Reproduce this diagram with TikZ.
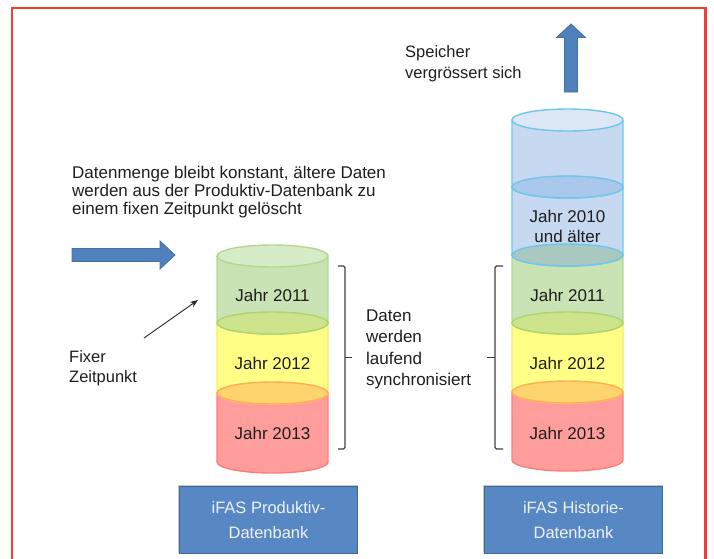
\documentclass[tikz,border=0pt]{standalone}
\usepackage{fontspec}
\setmainfont{Liberation Sans}
\usetikzlibrary{arrows.meta}
\definecolor{frame}{HTML}{F03E34}
\definecolor{arrowfill}{HTML}{4F81BD}
\definecolor{arrowline}{HTML}{41719C}
\definecolor{boxfill}{HTML}{5888C3}
\definecolor{boxline}{HTML}{3F6899}
\definecolor{boxtext}{HTML}{EEF2F8}
\definecolor{txt}{HTML}{1E1E1E}
\definecolor{grfill}{HTML}{C9E3B5}
\definecolor{grline}{HTML}{B3D98F}
\definecolor{grtop}{HTML}{D6EBC7}
\definecolor{gycap}{HTML}{CDE48C}
\definecolor{gyline}{HTML}{AED46A}
\definecolor{yefill}{HTML}{FFFF85}
\definecolor{yeline}{HTML}{F2EC6A}
\definecolor{yrcap}{HTML}{FFD36E}
\definecolor{yrline}{HTML}{FFAE55}
\definecolor{refill}{HTML}{FF9C9C}
\definecolor{reline}{HTML}{FF7C7C}
\definecolor{blfill}{HTML}{C6D9F1}
\definecolor{blline}{HTML}{6EC6EC}
\definecolor{bltop}{HTML}{DCE8F6}
\definecolor{blcap}{HTML}{AAC7EC}
\definecolor{bgcap}{HTML}{A9C8C0}
\newcommand\cylbody[5]{%
  \pgfmathsetmacro\cxl{#1-55.5}\pgfmathsetmacro\cxr{#1+55.5}%
  \filldraw[fill=#4,draw=#5,cylline] (\cxl,#2) -- (\cxl,#3)
    arc[start angle=180,end angle=360,x radius=55.5pt,y radius=11pt] -- (\cxr,#2);}
\newcommand\cylcap[4]{%
  \filldraw[fill=#3,draw=#4,cylline] (#1,#2) ellipse[x radius=55.5pt,y radius=11pt];}
\begin{document}
\begin{tikzpicture}[x=1pt,y=-1pt,
  cylline/.style={line width=1.4pt},
  lbl/.style={inner sep=0pt,text=txt,font=\fontsize{17}{20}\selectfont},
  note/.style={lbl,anchor=north west,align=left},
  dbbox/.style={draw=boxline,line width=1.2pt,fill=boxfill,text=boxtext,align=center,
    minimum width=178pt,minimum height=67pt,inner sep=0pt,
    font=\fontsize{16.5}{25}\selectfont},
  bracket/.style={draw=black!75,line width=1.1pt},
  blockarrow/.style={fill=arrowfill,draw=arrowline,line width=0.8pt}]
\useasboundingbox (0,0) rectangle (714,558);
% frame
\draw[frame,line width=2.4pt] (12,560) -- (12,8) -- (705.5,8) -- (705.5,560);

% ---------- left cylinder ----------
\cylbody{272.5}{393}{462}{refill}{reline}
\cylbody{272.5}{323}{393}{yefill}{yeline}
\cylbody{272.5}{256}{323}{grfill}{grline}
\cylcap{272.5}{393}{yrcap}{yrline}
\cylcap{272.5}{323}{gycap}{gyline}
\cylcap{272.5}{256}{grtop}{grline}
\node[lbl] (l11) at (272.5,295) {Jahr 2011};
\node[lbl] (l12) at (272.5,363) {Jahr 2012};
\node[lbl] (l13) at (272.5,433) {Jahr 2013};

% ---------- right cylinder ----------
\cylbody{567.5}{392}{460}{refill}{reline}
\cylbody{567.5}{323}{392}{yefill}{yeline}
\cylbody{567.5}{255}{323}{grfill}{grline}
\cylbody{567.5}{187}{255}{blfill}{blline}
\cylbody{567.5}{120}{187}{blfill}{blline}
\cylcap{567.5}{392}{yrcap}{yrline}
\cylcap{567.5}{323}{gycap}{gyline}
\cylcap{567.5}{255}{bgcap}{blline}
\cylcap{567.5}{187}{blcap}{blline}
\cylcap{567.5}{120}{bltop}{blline}
\node[lbl,align=center,font=\fontsize{17}{20}\selectfont] (l10) at (567.5,226) {Jahr 2010\\und älter};
\node[lbl] (r11) at (567.5,295) {Jahr 2011};
\node[lbl] (r12) at (567.5,363) {Jahr 2012};
\node[lbl] (r13) at (567.5,433) {Jahr 2013};

% ---------- database boxes ----------
\fill[black!22] (177.5,484.5) rectangle (358,553);
\node[dbbox] (pdb) at (268.5,520) {iFAS Produktiv-\\Datenbank};
\fill[black!22] (482.5,484.5) rectangle (663,553);
\node[dbbox] (hdb) at (573.5,520) {iFAS Historie-\\Datenbank};

% ---------- brackets ----------
\draw[bracket,rounded corners=1.5pt] (338,266) -- (345,266) -- (345,449) -- (338,449);
\draw[bracket] (345,357.5) -- (352,357.5);
\draw[bracket,rounded corners=1.5pt] (503,266) -- (495,266) -- (495,449) -- (503,449);
\draw[bracket] (495,357.5) -- (487,357.5);

% ---------- texts ----------
\node[note,font=\fontsize{17}{18.4}\selectfont] (dm) at (72,165.5)
  {Datenmenge bleibt konstant, ältere Daten\\werden aus der Produktiv-Datenbank zu\\einem fixen Zeitpunkt gelöscht};
\node[note,font=\fontsize{16.5}{21}\selectfont] (sp) at (405,45.5) {Speicher\\vergrössert sich};
\node[note,font=\fontsize{16.5}{20}\selectfont] (fz) at (69,350.5) {Fixer\\Zeitpunkt};
\node[note,font=\fontsize{17}{21.3}\selectfont] (sync) at (366,309.5) {Daten\\werden\\laufend\\synchronisiert};

% ---------- arrows ----------
\draw[blockarrow] (72,248.5) -- (160,248.5) -- (160,241) -- (175,255) -- (160,269)
  -- (160,261.5) -- (72,261.5) -- cycle;
\draw[blockarrow] (564.5,92) -- (564.5,37.5) -- (556.5,37.5) -- (571,24) -- (585.5,37.5)
  -- (577.5,37.5) -- (577.5,92) -- cycle;
\coordinate (fa) at (144,338);
\coordinate (fb) at (198,300);
\draw[-{Stealth[length=8pt,width=6pt]},line width=0.9pt,black!85] (fa) -- (fb);
\end{tikzpicture}
\end{document}
